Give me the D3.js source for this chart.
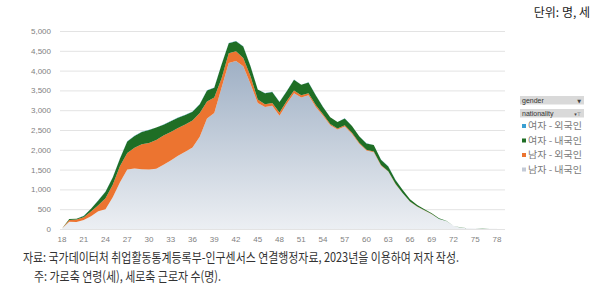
<!DOCTYPE html>
<html><head><meta charset="utf-8">
<script src="https://cdn.jsdelivr.net/npm/d3@7"></script>
<style>
html,body{margin:0;padding:0;background:#fff;}
svg{display:block;}
</style></head>
<body><svg id="c" width="600" height="297"></svg>
<script>
const ages = [18,19,20,21,22,23,24,25,26,27,28,29,30,31,32,33,34,35,36,37,38,39,40,41,42,43,44,45,46,47,48,49,50,51,52,53,54,55,56,57,58,59,60,61,62,63,64,65,66,67,68,69,70,71,72,73,74,75,76,77,78];
const maleNative = [10,180,175,228,320,450,500,800,1180,1500,1530,1510,1500,1520,1620,1730,1850,1950,2060,2330,2790,2930,3560,4190,4240,4110,3660,3180,3080,3110,2860,3160,3430,3320,3380,3080,2860,2620,2510,2590,2400,2150,1980,1940,1600,1450,1130,900,690,565,470,375,255,200,80,32,18,13,9,7,5];
const maleForeign = [2,50,65,67,120,150,275,320,410,420,520,630,670,730,740,720,700,690,680,600,430,390,240,250,250,210,200,90,70,70,80,70,70,60,50,50,40,30,30,30,30,25,20,20,15,10,10,5,3,2,1,1,0,0,0,0,0,0,0,0,0];
const femaleNative = [3,20,20,35,70,120,165,180,190,290,300,310,330,310,270,270,260,240,220,220,280,250,350,250,250,290,250,250,280,280,270,250,270,260,270,250,180,170,160,170,170,165,160,160,135,120,100,80,57,39,26,20,15,10,5,3,2,2,1,1,0];
const femaleForeign = [0,2,2,3,4,5,5,6,6,6,6,6,6,6,6,6,6,6,6,6,6,6,6,6,6,6,6,5,5,5,5,5,5,5,5,5,4,4,4,4,4,4,3,3,3,3,2,2,2,1,1,1,1,0,0,0,0,0,0,0,0];
const yTicks = [0,500,1000,1500,2000,2500,3000,3500,4000,4500,5000];
const xTickLabels = [18,21,24,27,30,33,36,39,42,45,48,51,54,57,60,63,66,69,72,75,78];
const legendLabels = ["여자 - 외국인","여자 - 내국인","남자 - 외국인","남자 - 내국인"];
const legendColors = ["#3a9fd2","#1f6e25","#ec7430","#c3cad6"];

const svg = d3.select("#c");
const x = d3.scaleLinear().domain([18,79]).range([62,504.25]);
const y = d3.scaleLinear().domain([0,5000]).range([229,31]);

const rows = ages.map((a,i)=>({age:a,mNat:maleNative[i],mFor:maleForeign[i],fNat:femaleNative[i],fFor:femaleForeign[i]}));
const keys = ["mNat","mFor","fNat","fFor"];
const stack = d3.stack().keys(keys)(rows);
const fills = {mNat:"url(#gg)",mFor:"#ec7430",fNat:"#1f6e25",fFor:"#3a9fd2"};

const defs = svg.append("defs");
const gg = defs.append("linearGradient").attr("id","gg").attr("gradientUnits","userSpaceOnUse")
  .attr("x1",0).attr("x2",0).attr("y1",y(4300)).attr("y2",y(0));
gg.append("stop").attr("offset","0").attr("stop-color","#9eafc4");
gg.append("stop").attr("offset","1").attr("stop-color","#eceff3");

// gridlines
svg.append("g").selectAll("line").data(yTicks).join("line")
  .attr("x1",60).attr("x2",505).attr("y1",d=>y(d)+0.5).attr("y2",d=>y(d)+0.5)
  .attr("stroke","#e3e3e3").attr("stroke-width",1);

const area = d3.area().x(d=>x(d.data.age)).y0(d=>y(d[0])).y1(d=>y(d[1]));
svg.append("g").selectAll("path").data(stack).join("path")
  .attr("d",area).attr("fill",d=>fills[d.key]);

// y axis labels
svg.append("g").selectAll("text").data(yTicks).join("text")
  .attr("x",51).attr("y",d=>y(d)+3).attr("text-anchor","end")
  .attr("font-family","Liberation Sans, Arial, sans-serif").attr("font-size",8).attr("fill","#7f7f7f")
  .text(d=>d3.format(",")(d));
// x axis labels
svg.append("g").selectAll("text").data(xTickLabels).join("text")
  .attr("x",d=>x(d)).attr("y",242).attr("text-anchor","middle")
  .attr("font-family","Liberation Sans, Arial, sans-serif").attr("font-size",8).attr("fill","#7f7f7f")
  .text(d=>d);

// unit label
svg.append("text").attr("x",590).attr("y",17).attr("text-anchor","end")
  .attr("font-family","Noto Sans CJK KR, sans-serif").attr("font-size",12).attr("fill","#222")
  .text("단위: 명, 세");

// legend pivot buttons
const btns = [{t:"gender",y:96,icon:"▼"},{t:"nationality",y:109,icon:"▾⊤"}];
const bg = svg.append("g");
btns.forEach(b=>{
  bg.append("rect").attr("x",520).attr("y",b.y).attr("width",64).attr("height",8.5).attr("fill","#d9d9d9");
  bg.append("text").attr("x",522).attr("y",b.y+7).attr("font-family","Liberation Sans, Arial, sans-serif")
    .attr("font-size",7).attr("fill","#333").text(b.t);
  bg.append("text").attr("x",581).attr("y",b.y+7).attr("text-anchor","end").attr("font-family","DejaVu Sans, sans-serif")
    .attr("font-size",5).attr("fill","#444").text(b.icon);
});
const lg = svg.append("g").selectAll("g").data(legendLabels).join("g")
  .attr("transform",(d,i)=>`translate(522,${127+i*14.5})`);
lg.append("rect").attr("x",0).attr("y",-3).attr("width",4).attr("height",4).attr("fill",(d,i)=>legendColors[i]);
lg.append("text").attr("x",6).attr("y",2).attr("textLength",54).attr("lengthAdjust","spacingAndGlyphs")
  .attr("font-family","Noto Sans CJK KR, sans-serif")
  .attr("font-size",9.5).attr("fill","#7a7a7a").text(d=>d);

// notes
svg.append("text").attr("x",23).attr("y",262).attr("textLength",436).attr("lengthAdjust","spacingAndGlyphs")
  .attr("font-family","Noto Sans CJK KR, sans-serif").attr("font-size",13).attr("fill","#333")
  .text("자료: 국가데이터처 취업활동통계등록부-인구센서스 연결행정자료, 2023년을 이용하여 저자 작성.");
svg.append("text").attr("x",34).attr("y",281).attr("textLength",187).attr("lengthAdjust","spacingAndGlyphs")
  .attr("font-family","Noto Sans CJK KR, sans-serif").attr("font-size",13).attr("fill","#333")
  .text("주: 가로축 연령(세), 세로축 근로자 수(명).");
</script></body></html>
